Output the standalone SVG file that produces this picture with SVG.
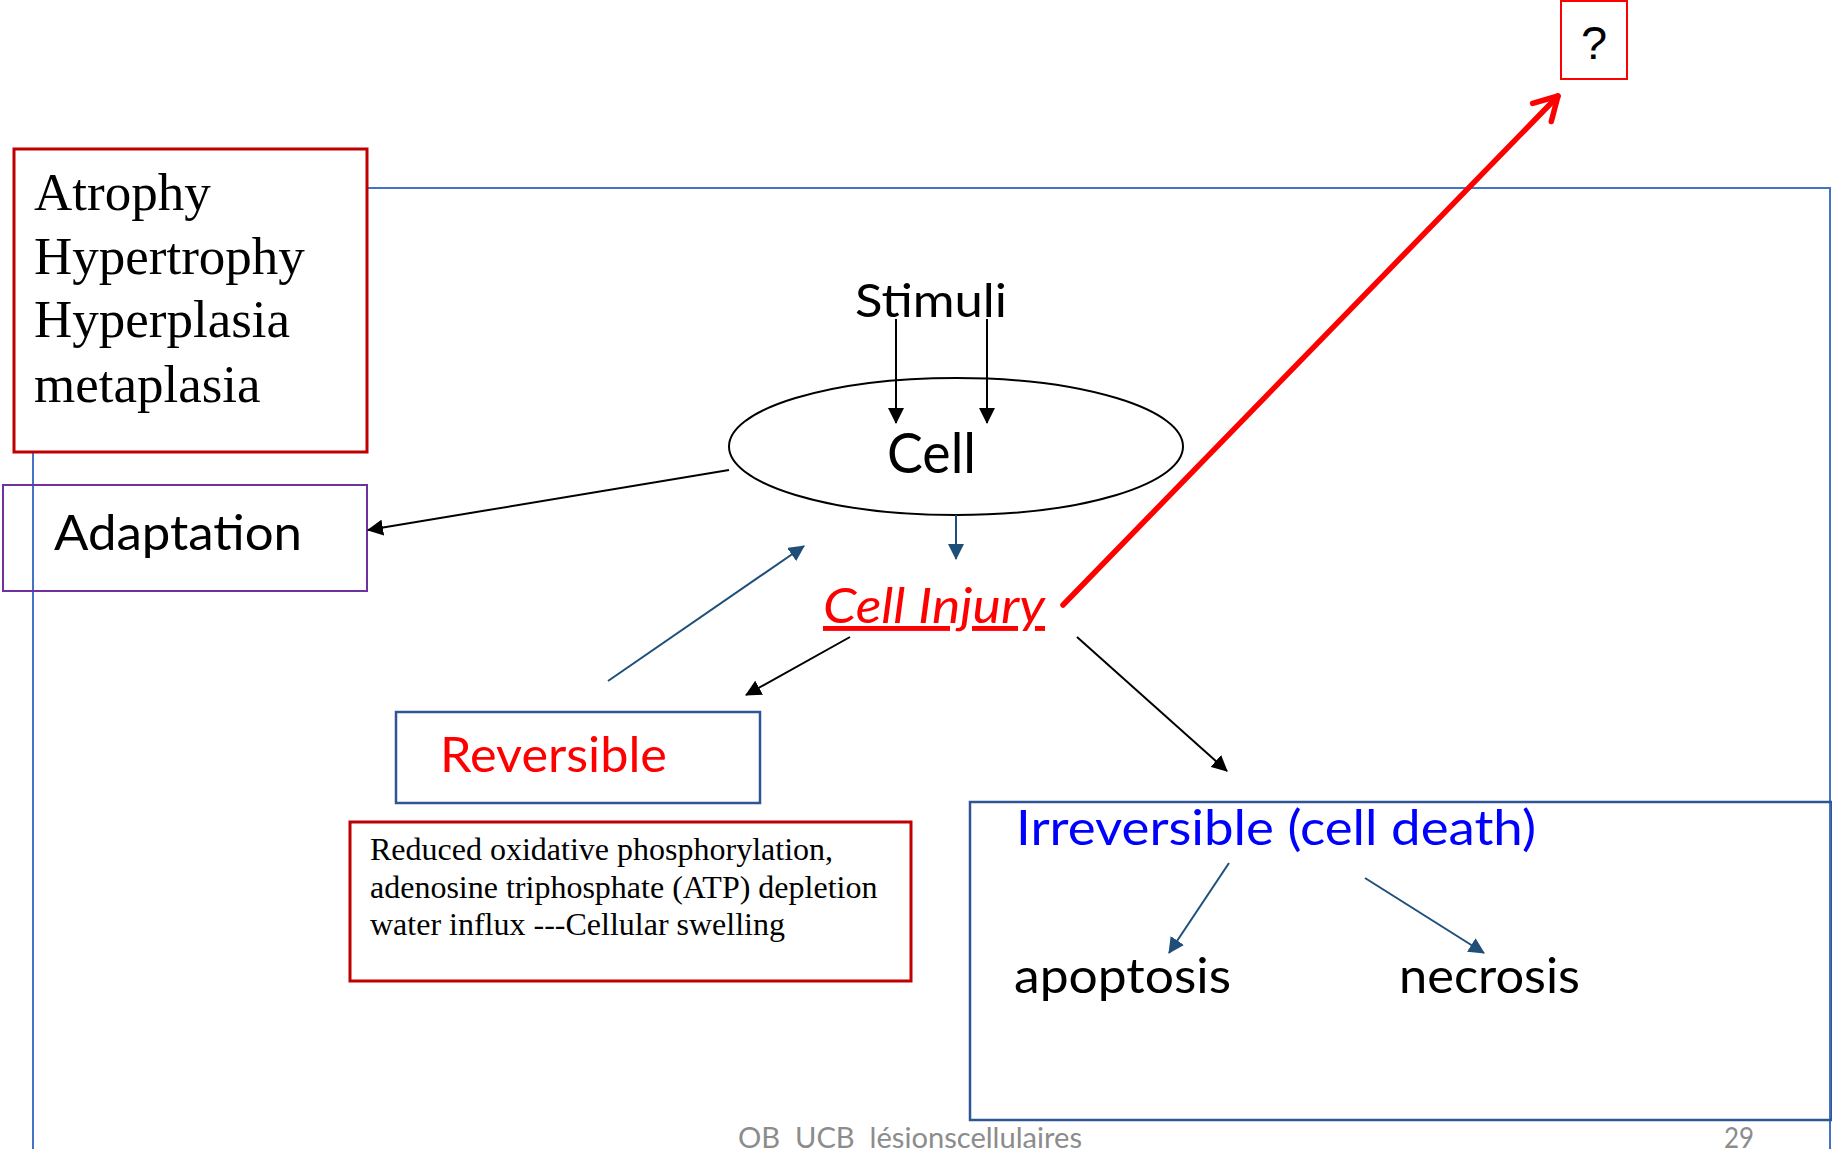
<svg xmlns="http://www.w3.org/2000/svg" width="1832" height="1149" viewBox="0 0 1832 1149">
  <style>
    .sans { font-family: Lato, "Open Sans", "Liberation Sans", sans-serif; }
    .serif { font-family: "Liberation Serif", "Times New Roman", serif; fill: #000; }
    .frame { fill: none; stroke: #4472C4; stroke-width: 2; }
    .box-red { fill: #fff; stroke: #C00000; stroke-width: 3; }
    .box-blue { fill: none; stroke: #2F5597; stroke-width: 2.5; }
    .link-black { fill: none; stroke: #000; stroke-width: 2; }
    .link-blue { fill: none; stroke: #1F4E79; stroke-width: 2; }
    .link-red { fill: none; stroke: #FF0000; stroke-width: 5.5; stroke-linecap: round; }
    .footer { fill: #8C8C8C; font-size: 29px; }
  </style>
  <defs>
    <marker id="ah-black" markerUnits="userSpaceOnUse" markerWidth="16" markerHeight="16" refX="15" refY="8" orient="auto">
      <path d="M0,0 L16,8 L0,16 z" fill="#000"/>
    </marker>
    <marker id="ah-blue" markerUnits="userSpaceOnUse" markerWidth="16" markerHeight="16" refX="15" refY="8" orient="auto">
      <path d="M0,0 L16,8 L0,16 z" fill="#1F4E79"/>
    </marker>
    <marker id="ah-red-open" markerUnits="userSpaceOnUse" viewBox="-28 -18 32 36" markerWidth="32" markerHeight="36" refX="0" refY="0" orient="auto">
      <path d="M-23,-13 L0,0 L-23,13" fill="none" stroke="#FF0000" stroke-width="5.5" stroke-linecap="round" stroke-linejoin="round"/>
    </marker>
  </defs>

  <rect width="1832" height="1149" fill="#fff"/>

  <!-- outer frame behind everything -->
  <rect class="frame" x="33" y="188" width="1797" height="1020"/>

  <!-- adaptations list -->
  <g id="node-adaptations">
    <rect class="box-red" x="14" y="149" width="353" height="303"/>
    <text class="serif" font-size="53" x="34" y="210">Atrophy</text>
    <text class="serif" font-size="53" x="34" y="274">Hypertrophy</text>
    <text class="serif" font-size="53" x="34" y="337">Hyperplasia</text>
    <text class="serif" font-size="53" x="34" y="402">metaplasia</text>
  </g>

  <g id="node-adaptation">
    <rect x="3" y="485" width="364" height="106" fill="none" stroke="#7030A0" stroke-width="2"/>
    <text class="sans" font-size="49" x="54" y="550" textLength="248" lengthAdjust="spacingAndGlyphs">Adaptation</text>
  </g>

  <g id="node-stimuli">
    <text class="sans" font-size="47" x="855" y="317" textLength="152" lengthAdjust="spacingAndGlyphs">Stimuli</text>
  </g>

  <g id="node-cell">
    <ellipse cx="956" cy="446.5" rx="227" ry="68.5" fill="none" stroke="#000" stroke-width="2"/>
    <text class="sans" font-size="57" x="887" y="473" textLength="89" lengthAdjust="spacingAndGlyphs">Cell</text>
  </g>

  <g id="node-cell-injury">
    <text class="sans" font-size="49" font-style="italic" fill="#FF0000" text-decoration="underline" x="823" y="623" textLength="222" lengthAdjust="spacingAndGlyphs">Cell Injury</text>
  </g>

  <g id="node-question">
    <rect x="1561" y="1" width="66" height="78" fill="none" stroke="#FF0000" stroke-width="2"/>
    <text font-family="'Liberation Sans', Arial, sans-serif" font-size="47" x="1594" y="59" text-anchor="middle" fill="#000">?</text>
  </g>

  <g id="node-reversible">
    <rect class="box-blue" x="396" y="712" width="364" height="91"/>
    <text class="sans" font-size="49" fill="#FF0000" x="440" y="772" textLength="227" lengthAdjust="spacingAndGlyphs">Reversible</text>
  </g>

  <g id="node-reversible-details">
    <rect class="box-red" x="350" y="822" width="561" height="159"/>
    <text class="serif" font-size="32" x="370" y="860">Reduced oxidative phosphorylation,</text>
    <text class="serif" font-size="32" x="370" y="898">adenosine triphosphate (ATP) depletion</text>
    <text class="serif" font-size="32" x="370" y="935">water influx ---Cellular swelling</text>
  </g>

  <g id="node-irreversible">
    <rect class="box-blue" x="970" y="802" width="862" height="318"/>
    <text class="sans" font-size="49" fill="#0000FF" x="1016" y="845" textLength="520" lengthAdjust="spacingAndGlyphs">Irreversible (cell death)</text>
  </g>

  <g id="node-apoptosis">
    <text class="sans" font-size="49" fill="#000" x="1014" y="993" textLength="217" lengthAdjust="spacingAndGlyphs">apoptosis</text>
  </g>

  <g id="node-necrosis">
    <text class="sans" font-size="49" fill="#000" x="1399" y="993" textLength="181" lengthAdjust="spacingAndGlyphs">necrosis</text>
  </g>

  <g id="connectors">
    <line class="link-black" x1="896" y1="319" x2="896" y2="423" marker-end="url(#ah-black)"/>
    <line class="link-black" x1="987" y1="319" x2="987" y2="423" marker-end="url(#ah-black)"/>
    <line class="link-black" x1="729" y1="470" x2="368" y2="530" marker-end="url(#ah-black)"/>
    <line class="link-blue" x1="956" y1="515" x2="956" y2="559" marker-end="url(#ah-blue)"/>
    <line class="link-blue" x1="608" y1="681" x2="804" y2="546" marker-end="url(#ah-blue)"/>
    <line class="link-black" x1="850" y1="637" x2="746" y2="695" marker-end="url(#ah-black)"/>
    <line class="link-black" x1="1077" y1="637" x2="1227" y2="771" marker-end="url(#ah-black)"/>
    <line class="link-red" x1="1063" y1="605" x2="1558" y2="96" marker-end="url(#ah-red-open)"/>
    <line class="link-blue" x1="1229" y1="863" x2="1169" y2="953" marker-end="url(#ah-blue)"/>
    <line class="link-blue" x1="1365" y1="878" x2="1484" y2="953" marker-end="url(#ah-blue)"/>
  </g>

  <g id="footer">
    <text class="sans footer" x="738" y="1148" xml:space="preserve" textLength="344" lengthAdjust="spacingAndGlyphs">OB  UCB  lésionscellulaires</text>
    <text class="sans footer" x="1724" y="1148" textLength="30" lengthAdjust="spacingAndGlyphs">29</text>
  </g>
</svg>
